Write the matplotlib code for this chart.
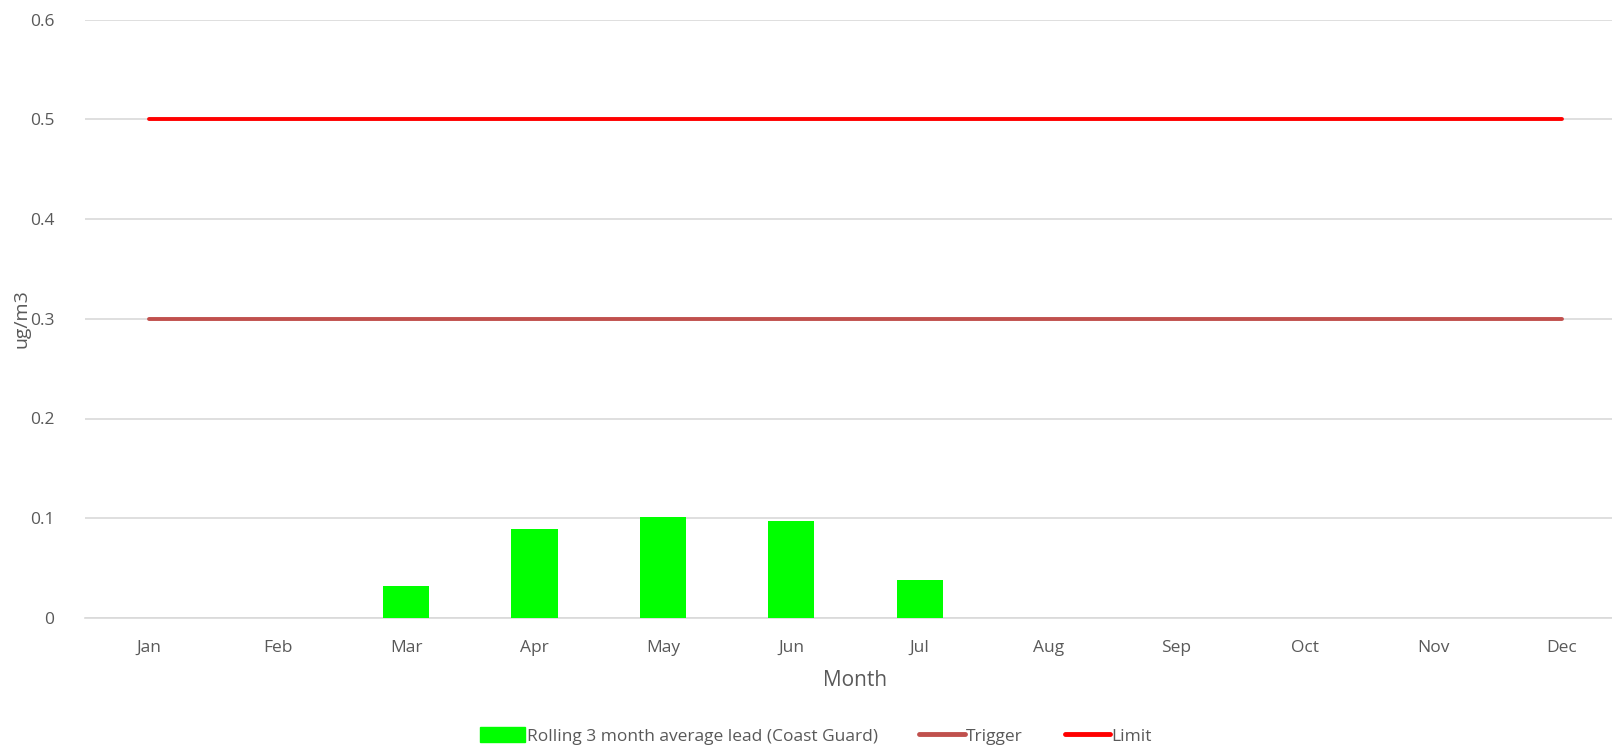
import numpy as np
import matplotlib.pyplot as plt
from matplotlib.patches import Patch
from matplotlib.lines import Line2D

plt.rcParams['font.family'] = ['Open Sans', 'DejaVu Sans']

months = ["Jan", "Feb", "Mar", "Apr", "May", "Jun",
          "Jul", "Aug", "Sep", "Oct", "Nov", "Dec"]
lead = [np.nan, np.nan, 0.0324, 0.0893, 0.101, 0.0977, 0.0385,
        np.nan, np.nan, np.nan, np.nan, np.nan]
trigger = [0.3] * 12
limit = [0.5] * 12

x = np.arange(len(months))
text_col = '#595959'

fig = plt.figure(figsize=(16.12, 7.48), dpi=100)
ax = fig.add_axes([85/1612, 1 - 618/748, 1541/1612, (618 - 19.5)/748])

ax.bar(x, lead, width=0.36, color='#00FF00', zorder=3)
ax.plot(x, trigger, color='#C0504D', lw=2.8, solid_capstyle='round', zorder=4)
ax.plot(x, limit, color='#FF0000', lw=2.8, solid_capstyle='round', zorder=4)

ax.set_xlim(-0.5, 11.5)
ax.set_ylim(0, 0.6)
ax.set_yticks(np.arange(0, 0.61, 0.1))
ax.set_yticklabels(["0", "0.1", "0.2", "0.3", "0.4", "0.5", "0.6"])
ax.set_xticks(x)
ax.set_xticklabels(months)
ax.grid(axis='y', color='#D9D9D9', lw=1.2, zorder=0)
for s in ['left', 'right', 'top']:
    ax.spines[s].set_visible(False)
ax.spines['bottom'].set_color('#D9D9D9')
ax.spines['bottom'].set_linewidth(1.2)
ax.tick_params(length=0, labelsize=12.5, colors=text_col)
ax.tick_params(axis='x', pad=16)
ax.tick_params(axis='y', pad=22)
ax.set_xlabel("Month", fontsize=15, color=text_col, labelpad=10)
ax.set_ylabel("ug/m3", fontsize=14, color=text_col, labelpad=-0.5)

handles = [Patch(color='#00FF00'),
           Line2D([], [], color='#C0504D', lw=3.5, solid_capstyle='round'),
           Line2D([], [], color='#FF0000', lw=3.5, solid_capstyle='round')]
labels = ["Rolling 3 month average lead (Coast Guard)", "Trigger", "Limit"]
fig.legend(handles, labels, loc='center', bbox_to_anchor=(816/1612, 1 - 736/748),
           ncol=3, frameon=False, fontsize=12.5, labelcolor=text_col,
           handlelength=2.6, handletextpad=0.1, columnspacing=2.4,
           handleheight=0.9)

fig.savefig("out.png", dpi=100)
